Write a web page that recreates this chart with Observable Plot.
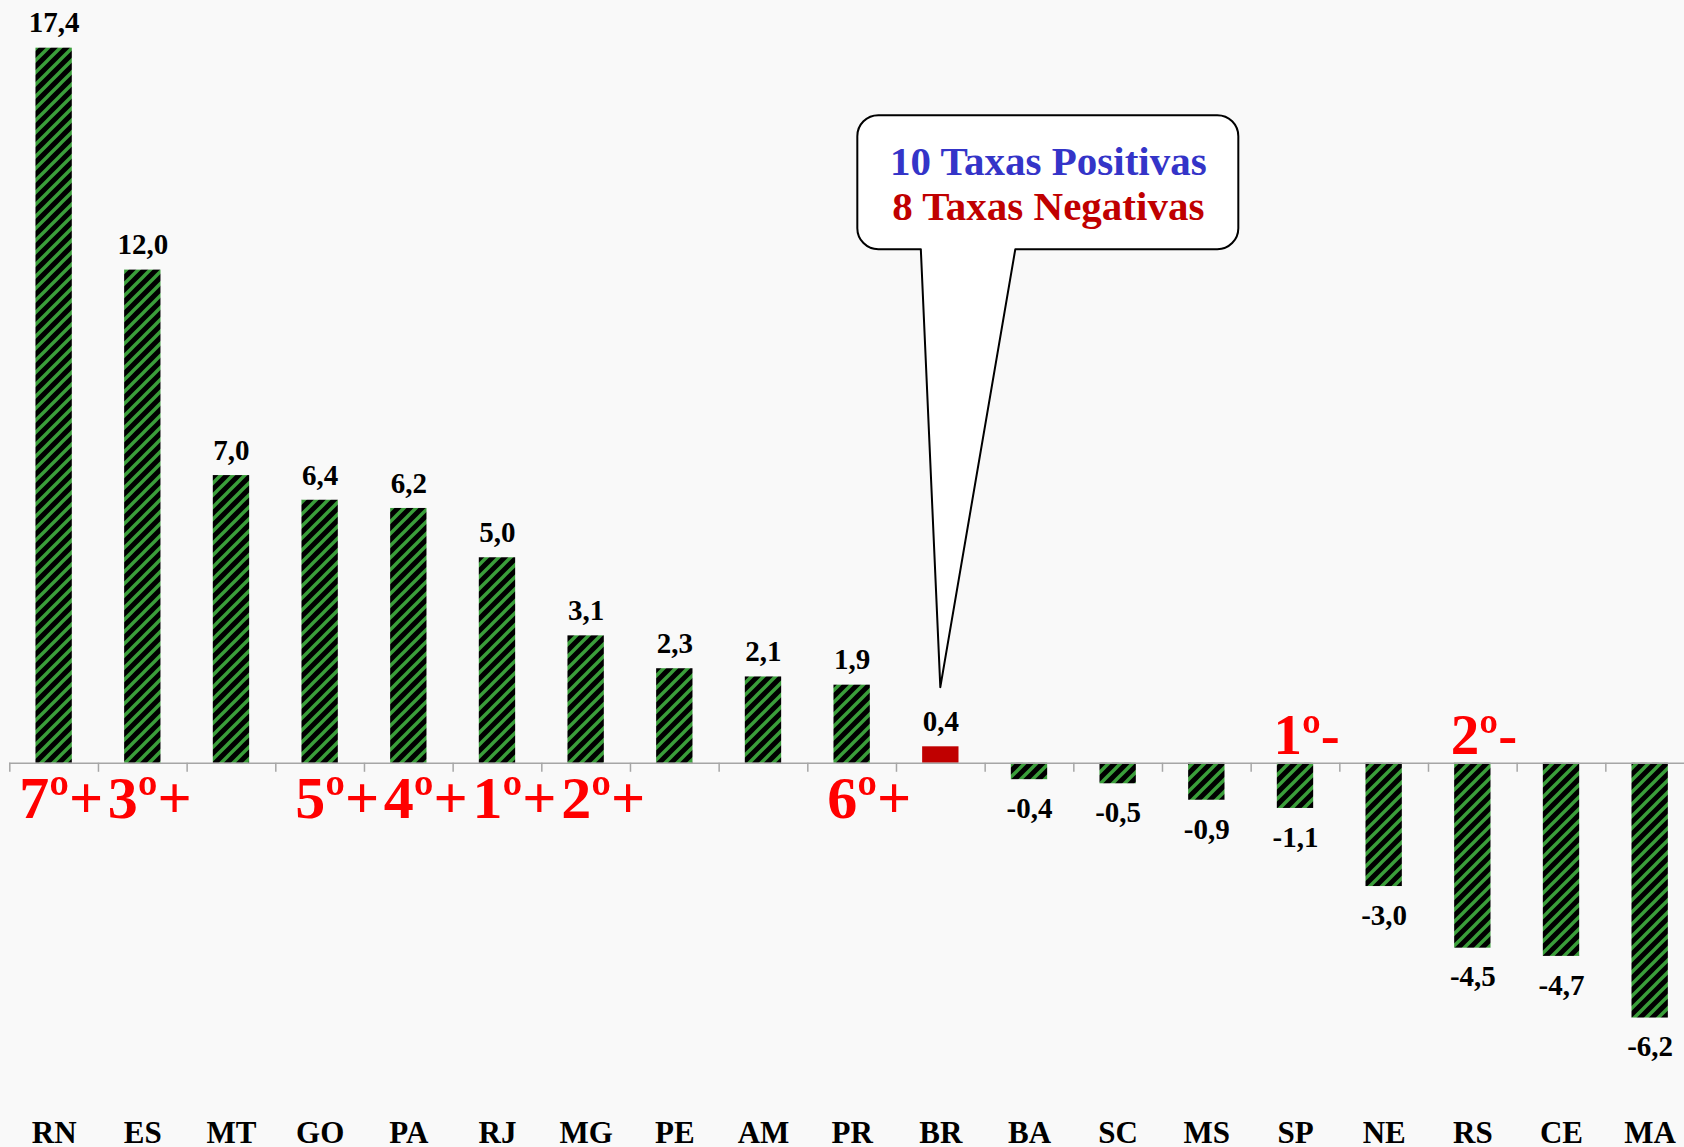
<!DOCTYPE html>
<html>
<head>
<meta charset="utf-8">
<script src="https://cdn.jsdelivr.net/npm/d3@7"></script>
<script src="https://cdn.jsdelivr.net/npm/@observablehq/plot@0.6"></script>
<style>
  html, body { margin: 0; padding: 0; background: #f9f9f9; overflow: hidden; }
  #chart svg { display: block; }
</style>
</head>
<body>
<svg width="0" height="0" style="position:absolute">
  <defs>
    <pattern id="stripes" patternUnits="userSpaceOnUse" width="12" height="12">
      <rect width="12" height="12" fill="#000"></rect>
      <path d="M0,12 L12,0 M-3,3 L3,-3 M9,15 L15,9" stroke="#3a9e3a" stroke-width="3.4"></path>
    </pattern>
  </defs>
</svg>
<div id="chart"></div>
<script>
const categories = ["RN","ES","MT","GO","PA","RJ","MG","PE","AM","PR","BR","BA","SC","MS","SP","NE","RS","CE","MA"];
const values = [17.4, 12.0, 7.0, 6.4, 6.2, 5.0, 3.1, 2.3, 2.1, 1.9, 0.4, -0.4, -0.5, -0.9, -1.1, -3.0, -4.5, -4.7, -6.2];
const rankLabels = ["7º+","3º+","","5º+","4º+","1º+","2º+","","","6º+","","","","","1º-","","2º-","",""];
const highlight = "BR";
const calloutLines = ["10 Taxas Positivas", "8 Taxas Negativas"];
const calloutColors = ["#3434c8", "#c00000"];

const data = categories.map((c, i) => ({
  cat: c,
  value: values[i],
  label: values[i].toFixed(1).replace(".", ","),
  rank: rankLabels[i]
}));

const W = 1684, H = 1147;
const xRange = [9.3, 1694];
const step = (xRange[1] - xRange[0]) / categories.length;
const font = "'Liberation Serif', 'Times New Roman', serif";

const pos = data.filter(d => d.value >= 0);
const neg = data.filter(d => d.value < 0);
const tightPair = ["RN", "ES"];
const rankPos = data.filter(d => d.rank.endsWith("+"));
const rankNeg = data.filter(d => d.rank.endsWith("-"));

const chart = Plot.plot({
  width: W,
  height: H,
  marginLeft: 9, marginRight: 0, marginTop: 0, marginBottom: 0,
  style: { background: "#f9f9f9", fontFamily: font, overflow: "visible" },
  x: { type: "band", domain: categories, range: xRange, paddingInner: 0.59, paddingOuter: 0.295, round: false, axis: null },
  y: { domain: [-9.35, 18.56], range: [H, 0], axis: null },
  color: { type: "identity" },
  marks: [
    Plot.barY(data.filter(d => d.cat !== highlight), { x: "cat", y: "value", fill: "url(#stripes)" }),
    Plot.barY(data.filter(d => d.cat === highlight), { x: "cat", y: "value", fill: "#c00000" }),
    Plot.ruleY([0], { stroke: "#a6a6a6", strokeWidth: 1.5 }),
    Plot.ruleX(categories, { x: d => d, y1: 0, y2: -0.22, dx: -step / 2, stroke: "#a6a6a6", strokeWidth: 1.5 }),
    Plot.text(pos, { x: "cat", y: "value", text: "label", dy: -25, fontSize: 29, fontWeight: "bold", fill: "#000" }),
    Plot.text(neg, { x: "cat", y: "value", text: "label", dy: 29, fontSize: 29, fontWeight: "bold", fill: "#000" }),
    Plot.text(data, { x: "cat", frameAnchor: "bottom", text: "cat", dy: -5, fontSize: 31, fontWeight: "bold", fill: "#000" }),
    Plot.text(rankPos.filter(d => tightPair.includes(d.cat)), { x: "cat", y: 0, text: "rank", dy: 36, dx: -35, textAnchor: "start", fontSize: 60, fontWeight: "bold", fill: "#ff0000" }),
    Plot.text(rankPos.filter(d => !tightPair.includes(d.cat)), { x: "cat", y: 0, text: "rank", dy: 36, dx: -25, textAnchor: "start", fontSize: 60, fontWeight: "bold", fill: "#ff0000" }),
    Plot.text(rankNeg, { x: "cat", y: 0, text: "rank", dy: -27, dx: -22, textAnchor: "start", fontSize: 57, fontWeight: "bold", fill: "#ff0000" })
  ]
});

document.getElementById("chart").appendChild(chart);

// Callout anchored above the highlighted bar through the chart's scales
const xs = chart.scale("x"), ys = chart.scale("y");
const tx = xs.apply(highlight) + xs.bandwidth / 2;
const ty = ys.apply(1.84);
const L = tx - 83, R = tx + 298, T = ty - 572, B = ty - 438, r = 21;
const a = tx - 19.5, b = tx + 75;
const pathD = `M${L + r},${T} H${R - r} A${r},${r} 0 0 1 ${R},${T + r} V${B - r} A${r},${r} 0 0 1 ${R - r},${B} H${b} L${tx},${ty} L${a},${B} H${L + r} A${r},${r} 0 0 1 ${L},${B - r} V${T + r} A${r},${r} 0 0 1 ${L + r},${T} Z`;
const g = d3.select(chart).append("g");
g.append("path").attr("d", pathD).attr("fill", "#fff").attr("stroke", "#000").attr("stroke-width", 2).attr("stroke-linejoin", "round");
calloutLines.forEach((t, i) => {
  g.append("text")
    .attr("x", tx + 108)
    .attr("y", ty - 526 + i * 45)
    .attr("dy", "0.34em")
    .attr("text-anchor", "middle")
    .attr("font-family", font)
    .attr("font-weight", "bold")
    .attr("font-size", 41)
    .attr("fill", calloutColors[i])
    .text(t);
});
</script>
</body>
</html>
